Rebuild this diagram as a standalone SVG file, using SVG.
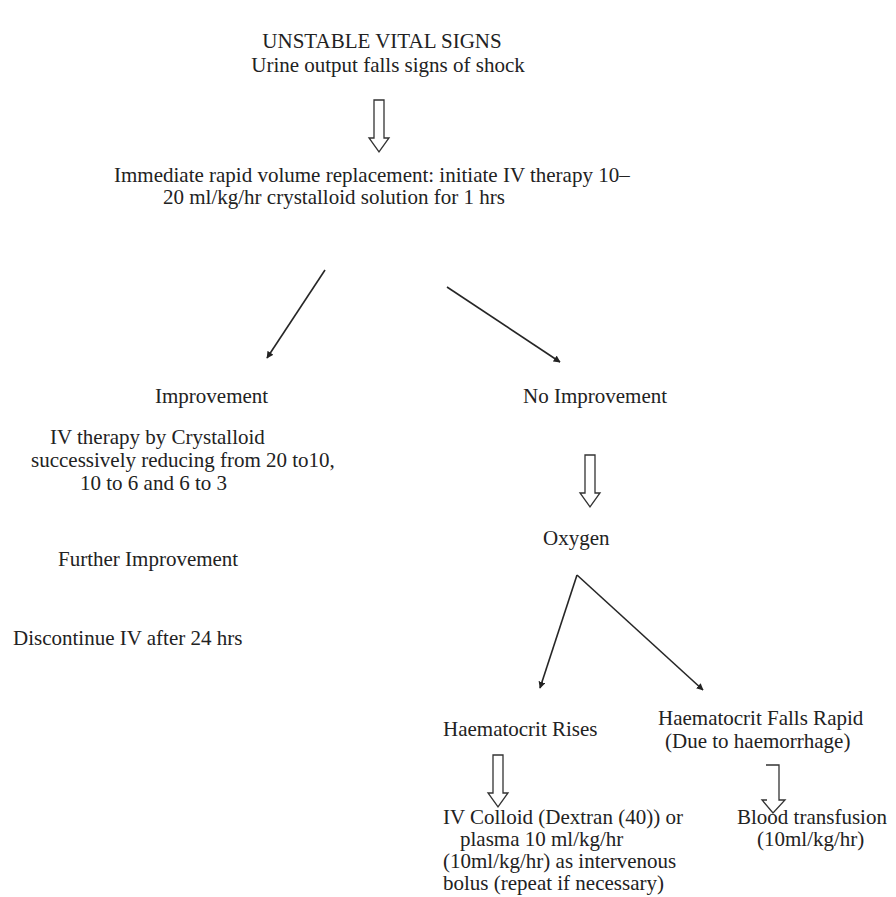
<svg xmlns="http://www.w3.org/2000/svg" width="896" height="897" viewBox="0 0 896 897">
  <defs>
    <marker id="head" viewBox="0 0 10 10" refX="9" refY="5" markerWidth="7" markerHeight="7" markerUnits="userSpaceOnUse" orient="auto">
      <path d="M0,0 L10,5 L0,10 z" fill="#222"/>
    </marker>
    <!-- hollow block arrow pointing down, origin at top centre of the shaft -->
    <path id="blockDown" d="M-5,0 H5 V38 H10 L0,52 L-10,38 H-5 Z"/>
  </defs>
  <style>
    text { font-family: "Liberation Serif", "Times New Roman", serif; font-size: 21px; fill: #222; }
    .mid { text-anchor: middle; }
    .edge { fill: none; stroke: #262626; stroke-width: 1.6; marker-end: url(#head); }
    .block { fill: #fff; stroke: #333; stroke-width: 1.3; }
  </style>
  <rect width="896" height="897" fill="#fff"/>

  <g id="connectors">
    <use href="#blockDown" class="block" x="379" y="100"/>
    <line class="edge" x1="325" y1="270" x2="267" y2="358"/>
    <line class="edge" x1="447" y1="287" x2="560" y2="362"/>
    <use href="#blockDown" class="block" x="590" y="455"/>
    <line class="edge" x1="577" y1="575" x2="540" y2="688"/>
    <line class="edge" x1="577" y1="575" x2="703" y2="690"/>
    <use href="#blockDown" class="block" x="498" y="755"/>
    <!-- open-sided block arrow above the transfusion step -->
    <path class="block" fill="none" d="M766,765 H779 V800 H785 L773,813 L762,800 H767"/>
  </g>

  <g id="unstable">
    <text class="mid" x="382" y="48">UNSTABLE VITAL SIGNS</text>
    <text class="mid" x="388" y="72">Urine output falls signs of shock</text>
  </g>

  <g id="volume-replacement">
    <text x="114" y="182">Immediate rapid volume replacement: initiate IV therapy 10–</text>
    <text x="163" y="204">20 ml/kg/hr crystalloid solution for 1 hrs</text>
  </g>

  <g id="improvement">
    <text x="155" y="403">Improvement</text>
  </g>

  <g id="crystalloid">
    <text x="50" y="444">IV therapy by Crystalloid</text>
    <text x="31" y="467">successively reducing from 20 to10,</text>
    <text x="80" y="490">10 to 6 and 6 to 3</text>
  </g>

  <g id="further-improvement">
    <text x="58" y="566">Further Improvement</text>
  </g>

  <g id="discontinue">
    <text x="13" y="645">Discontinue IV after 24 hrs</text>
  </g>

  <g id="no-improvement">
    <text x="523" y="403">No Improvement</text>
  </g>

  <g id="oxygen">
    <text x="543" y="545">Oxygen</text>
  </g>

  <g id="haematocrit-rises">
    <text x="443" y="736">Haematocrit Rises</text>
  </g>

  <g id="haematocrit-falls">
    <text x="658" y="725">Haematocrit Falls Rapid</text>
    <text x="665" y="748">(Due to haemorrhage)</text>
  </g>

  <g id="colloid">
    <text x="443" y="824">IV Colloid (Dextran (40)) or</text>
    <text x="460" y="846">plasma 10 ml/kg/hr</text>
    <text x="443" y="868">(10ml/kg/hr) as intervenous</text>
    <text x="443" y="890">bolus (repeat if necessary)</text>
  </g>

  <g id="transfusion">
    <text x="737" y="824">Blood transfusion</text>
    <text x="757" y="846">(10ml/kg/hr)</text>
  </g>
</svg>
